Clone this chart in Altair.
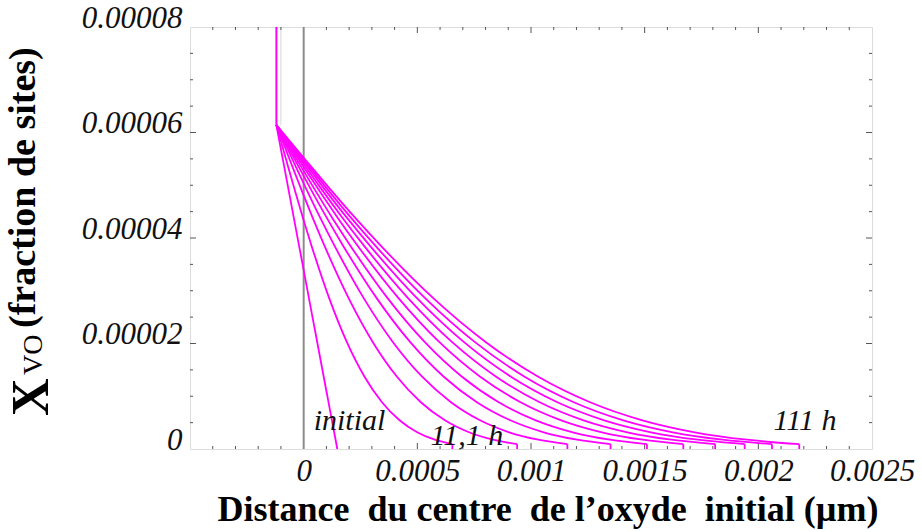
import altair as alt
import pandas as pd

# Plot window (distance in µm, X_VO in site fraction)
X_MIN, X_MAX = -0.0005, 0.0025
Y_MIN, Y_MAX = 0.0, 0.00008

# Left boundary of the oxide where every profile starts, and its concentration
x_start = -0.00012
y_start = 0.0000614
x_guide = -0.0001

# Initial profile (straight)
x_initial = [-0.00012, 0.000148]
y_initial = [0.0000614, 0.0]

# Concentration levels at which every profile is tabulated
xvo_levels = [6.14e-5, 5.55e-5, 4.96e-5, 4.39e-5, 3.85e-5, 2.86e-5, 2.03e-5,
              1.375e-5, 8.87e-6, 5.44e-6, 3.17e-6, 1.76e-6, 0.92e-6]

# Abscissa of each profile at those levels, 11,1 h to 111 h
x_11h = [-0.00012, -0.0000813, -0.0000426, -0.0000039, 0.0000348, 0.0001122, 0.0001896,
         0.000267, 0.0003444, 0.0004218, 0.0004992, 0.0005766, 0.000654]
x_22h = [-0.00012, -0.0000671, -0.0000141, 0.0000389, 0.0000918, 0.0001977, 0.0003036,
         0.0004095, 0.0005154, 0.0006213, 0.0007272, 0.0008331, 0.000939]
x_33h = [-0.00012, -0.000056, 0.000008, 0.000072, 0.000136, 0.000264, 0.000392,
         0.00052, 0.000648, 0.000776, 0.000904, 0.001032, 0.00116]
x_44h = [-0.00012, -0.0000465, 0.000027, 0.0001005, 0.000174, 0.000321, 0.000468,
         0.000615, 0.000762, 0.000909, 0.001056, 0.001203, 0.00135]
x_55h = [-0.00012, -0.0000385, 0.000043, 0.0001245, 0.000206, 0.000369, 0.000532,
         0.000695, 0.000858, 0.001021, 0.001184, 0.001347, 0.00151]
x_66h = [-0.00012, -0.0000305, 0.000059, 0.0001485, 0.000238, 0.000417, 0.000596,
         0.000775, 0.000954, 0.001133, 0.001312, 0.001491, 0.00167]
x_77h = [-0.00012, -0.0000235, 0.000073, 0.0001695, 0.000266, 0.000459, 0.000652,
         0.000845, 0.001038, 0.001231, 0.001424, 0.001617, 0.00181]
x_88h = [-0.00012, -0.000017, 0.000086, 0.000189, 0.000292, 0.000498, 0.000704,
         0.00091, 0.001116, 0.001322, 0.001528, 0.001734, 0.00194]
x_99h = [-0.00012, -0.000011, 0.000098, 0.000207, 0.000316, 0.000534, 0.000752,
         0.00097, 0.001188, 0.001406, 0.001624, 0.001842, 0.00206]
x_111h = [-0.00012, -0.000005, 0.00011, 0.000225, 0.00034, 0.00057, 0.0008,
          0.00103, 0.00126, 0.00149, 0.00172, 0.00195, 0.00218]

profile_names = ["11,1 h", "22,2 h", "33,3 h", "44,4 h", "55,5 h",
                 "66,6 h", "77,7 h", "88,8 h", "99,9 h", "111 h"]
profile_x = [x_11h, x_22h, x_33h, x_44h, x_55h, x_66h, x_77h, x_88h, x_99h, x_111h]

# Axis ticks
x_label_ticks = [0, 0.0005, 0.001, 0.0015, 0.002, 0.0025]
x_major_ticks = [0.0005, 0.001, 0.0015, 0.002]
x_minor_ticks = [-0.0004, -0.0003, -0.0002, -0.0001, 0.0001, 0.0002, 0.0003, 0.0004,
                 0.0006, 0.0007, 0.0008, 0.0009, 0.0011, 0.0012, 0.0013, 0.0014,
                 0.0016, 0.0017, 0.0018, 0.0019, 0.0021, 0.0022, 0.0023, 0.0024]
y_label_ticks = [0, 0.00002, 0.00004, 0.00006, 0.00008]
y_major_ticks = [0.00002, 0.00004, 0.00006]
y_minor_ticks = [0.000005, 0.00001, 0.000015, 0.000025, 0.00003, 0.000035,
                 0.000045, 0.00005, 0.000055, 0.000065, 0.00007, 0.000075]

# Curve annotations
note_text = ["initial", "11,1 h", "111 h"]
note_x = [0.000044, 0.000558, 0.002067]
note_y = [0.0000036, 0.00000076, 0.0000036]

x_title = "Distance\u00a0\u00a0du centre\u00a0\u00a0de l\u2019oxyde\u00a0\u00a0initial (\u00b5m)"
y_title_main = "X"
y_title_sub = "VO"
y_title_rest = "(fraction de sites)"

W, H = 682, 422
MAGENTA = "#ff00ff"
SERIF = "Liberation Serif"
LABEL_SIZE = 31

xs = alt.Scale(domain=[X_MIN, X_MAX], nice=False, zero=False)
ys = alt.Scale(domain=[Y_MIN, Y_MAX], nice=False, zero=False)

# ---- profile table -------------------------------------------------------
rows = [{"series": "initial", "x": xv, "y": yv} for xv, yv in zip(x_initial, y_initial)]
for name, xl in zip(profile_names, profile_x):
    rows += [{"series": name, "x": xv, "y": yv} for xv, yv in zip(xl, xvo_levels)]
profiles = pd.DataFrame(rows)

ends = pd.DataFrame({"x": [xl[-1] for xl in profile_x],
                     "y": [xvo_levels[-1]] * len(profile_x),
                     "y0": [0.0] * len(profile_x)})

x_axis = alt.Axis(values=x_label_ticks, labelExpr="toString(datum.value)",
                  ticks=False, domain=False, grid=False, title=None,
                  labelFont=SERIF, labelFontStyle="italic", labelFontSize=LABEL_SIZE,
                  labelColor="#111111", labelPadding=7, labelFlush=False, labelOverlap=False)
y_axis = alt.Axis(values=y_label_ticks, labelExpr="toString(datum.value)",
                  ticks=False, domain=False, grid=False, title=None,
                  labelFont=SERIF, labelFontStyle="italic", labelFontSize=LABEL_SIZE,
                  labelColor="#111111", labelPadding=8, labelBaseline="alphabetic",
                  labelFlush=False, labelOverlap=False)

curves = alt.Chart(profiles).mark_line(
    color=MAGENTA, strokeWidth=1.8, interpolate="monotone"
).encode(
    x=alt.X("x:Q", scale=xs, axis=x_axis),
    y=alt.Y("y:Q", scale=ys, axis=y_axis),
    detail="series:N",
)

drops = alt.Chart(ends).mark_rule(color=MAGENTA, strokeWidth=1.8).encode(
    x=alt.X("x:Q", scale=xs), y=alt.Y("y:Q", scale=ys), y2="y0:Q"
)

boundary = alt.Chart(pd.DataFrame({"x": [x_start], "y": [Y_MAX], "y2": [y_start]})).mark_rule(
    color=MAGENTA, strokeWidth=2
).encode(x=alt.X("x:Q", scale=xs), y=alt.Y("y:Q", scale=ys), y2="y2:Q")

guide = alt.Chart(pd.DataFrame({"x": [x_guide], "y": [Y_MAX], "y2": [y_start]})).mark_rule(
    color="#d4d4d4", strokeWidth=1
).encode(x=alt.X("x:Q", scale=xs), y=alt.Y("y:Q", scale=ys), y2="y2:Q")

origin = alt.Chart(pd.DataFrame({"x": [0.0]})).mark_rule(
    color="#8c8c8c", strokeWidth=2
).encode(x=alt.X("x:Q", scale=xs))


def x_ticks(values, length):
    df = pd.DataFrame({"v": values})
    bottom = alt.Chart(df).mark_rule(color="#555555", strokeWidth=1).encode(
        x=alt.X("v:Q", scale=xs), y=alt.value(H), y2=alt.value(H - length))
    top = alt.Chart(df).mark_rule(color="#555555", strokeWidth=1).encode(
        x=alt.X("v:Q", scale=xs), y=alt.value(0), y2=alt.value(length))
    return [bottom, top]


def y_ticks(values, length):
    df = pd.DataFrame({"v": values})
    left = alt.Chart(df).mark_rule(color="#555555", strokeWidth=1).encode(
        y=alt.Y("v:Q", scale=ys), x=alt.value(0), x2=alt.value(length))
    right = alt.Chart(df).mark_rule(color="#555555", strokeWidth=1).encode(
        y=alt.Y("v:Q", scale=ys), x=alt.value(W), x2=alt.value(W - length))
    return [left, right]


ticks = (x_ticks(x_major_ticks, 6) + x_ticks(x_minor_ticks, 3)
         + y_ticks(y_major_ticks, 6) + y_ticks(y_minor_ticks, 3))

notes = alt.Chart(pd.DataFrame({"t": note_text, "x": note_x, "y": note_y})).mark_text(
    font=SERIF, fontStyle="italic", fontSize=30, align="left", baseline="alphabetic",
    color="#111111"
).encode(x=alt.X("x:Q", scale=xs), y=alt.Y("y:Q", scale=ys), text="t:N")

xt = alt.Chart(pd.DataFrame({"t": [x_title]})).mark_text(
    font=SERIF, fontWeight="bold", fontSize=36, align="center", baseline="alphabetic",
    color="#000000"
).encode(x=alt.value(358), y=alt.value(494), text="t:N")

yt_main = alt.Chart(pd.DataFrame({"t": [y_title_main]})).mark_text(
    font=SERIF, fontWeight="bold", fontSize=52, angle=270, align="left",
    baseline="alphabetic", color="#000000"
).encode(x=alt.value(-142), y=alt.value(389), text="t:N")

yt_sub = alt.Chart(pd.DataFrame({"t": [y_title_sub]})).mark_text(
    font=SERIF, fontSize=28, angle=270, align="left",
    baseline="alphabetic", color="#000000"
).encode(x=alt.value(-148), y=alt.value(348), text="t:N")

yt_rest = alt.Chart(pd.DataFrame({"t": [y_title_rest]})).mark_text(
    font=SERIF, fontWeight="bold", fontSize=38, angle=270, align="left",
    baseline="alphabetic", color="#000000"
).encode(x=alt.value(-155), y=alt.value(301), text="t:N")

chart = alt.layer(
    guide, origin, *ticks, curves, drops, boundary, notes, xt, yt_main, yt_sub, yt_rest
).properties(
    width=W, height=H,
    padding={"left": 190, "top": 27, "right": 50, "bottom": 83},
    autosize=alt.AutoSizeParams(type="none"),
).configure_view(
    stroke="#7f7f7f", strokeWidth=2
).configure(background="white")

chart.save("out.html", embed_options={"renderer": "svg", "actions": False})
